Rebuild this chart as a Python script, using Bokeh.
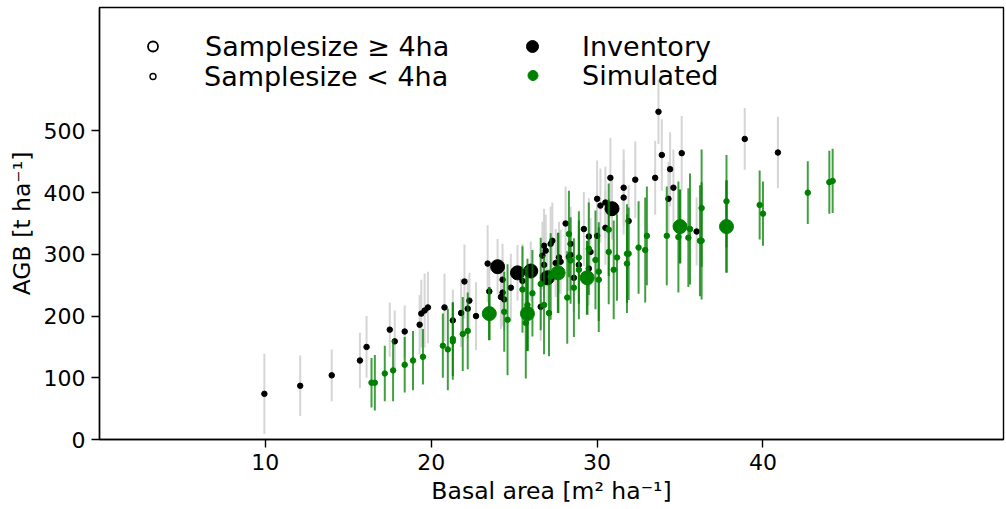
import numpy as np
from bokeh.plotting import figure
from bokeh.models import ColumnDataSource, Legend, LegendItem, FixedTicker
from bokeh.embed import file_html
from bokeh.resources import INLINE

# ---- Inventory, sample size < 4 ha ----
inv_x = [9.94, 12.1, 14.0, 15.7, 16.1, 17.5, 17.8, 18.4, 19.3, 19.4, 19.6, 19.8, 20.8, 21.3, 21.8,
         22.2, 22.3, 22.0, 22.7, 23.4, 23.5, 24.3, 24.3, 24.2, 24.4, 24.8, 25.5, 26.6, 26.7, 26.8,
         26.9, 26.8, 27.2, 27.3, 27.5, 27.7, 27.8, 28.1, 28.3, 28.4, 28.4, 28.6, 28.9, 29.2, 29.5,
         29.6, 29.5, 30.0, 30.0, 30.2, 30.5, 30.5, 30.8, 31.6, 31.6, 31.9, 32.3, 33.5, 33.7, 33.9,
         34.4, 34.3, 34.6, 35.1, 36.0, 38.9, 40.9]
inv_y = [74, 87, 104, 128, 150, 178, 159, 175, 186, 204, 209, 214, 214, 193, 205,
         212, 225, 256, 200, 285, 240, 259, 238, 231, 227, 246, 257, 215, 298, 314,
         306, 283, 317, 322, 286, 295, 288, 350, 296, 299, 317, 262, 283, 341, 329,
         304, 277, 390, 330, 379, 384, 343, 424, 408, 392, 354, 421, 424, 531, 461,
         438, 390, 408, 464, 337, 487, 465]
inv_err = [65, 49, 42, 45, 50, 44, 50, 42, 48, 55, 60, 58, 55, 50, 55,
           48, 45, 60, 55, 62, 50, 58, 55, 52, 50, 55, 60, 55, 55, 60,
           58, 55, 60, 62, 55, 58, 52, 60, 55, 58, 60, 55, 58, 60, 62,
           55, 60, 62, 58, 60, 58, 60, 65, 62, 60, 58, 62, 60, 52, 58,
           60, 60, 62, 60, 55, 50, 58]

# ---- Inventory, sample size >= 4 ha ----
inv_big_x = [24.0, 25.2, 26.0, 27.0, 30.9]
inv_big_y = [280, 270, 273, 262, 374]
inv_big_err = [45, 45, 48, 45, 50]

# ---- Simulated, sample size < 4 ha ----
sim_x = [16.4, 16.6, 17.2, 17.7, 18.4, 18.9, 19.5, 20.7, 21.0, 21.3, 21.3, 21.9, 22.2, 24.4, 24.6,
         25.5, 25.7, 25.8, 26.1, 26.6, 26.8, 27.1, 27.2, 28.3, 28.2, 28.6, 28.4, 28.9, 28.9, 29.5,
         29.9, 30.1, 30.1, 30.7, 30.7, 31.0, 31.2, 31.8, 31.9, 31.8, 32.5, 32.9, 33.0, 34.2, 34.9,
         35.5, 35.6, 36.3, 36.2, 36.3, 37.8, 39.8, 40.0, 42.7, 44.0, 44.2]
sim_y = [92, 92, 107, 112, 121, 128, 134, 152, 146, 163, 159, 171, 176, 207, 194,
         243, 189, 218, 237, 252, 218, 205, 264, 333, 230, 246, 290, 295, 275, 309,
         291, 272, 259, 340, 304, 275, 295, 301, 301, 285, 311, 307, 330, 330, 328,
         327, 341, 375, 322, 322, 386, 380, 366, 400, 417, 419]
sim_err = [40, 45, 45, 50, 45, 48, 45, 52, 66, 60, 62, 60, 62, 65, 90,
           70, 90, 75, 70, 75, 80, 70, 70, 70, 75, 80, 70, 75, 80, 75,
           80, 80, 85, 75, 85, 80, 70, 80, 75, 80, 75, 85, 80, 80, 90,
           80, 90, 95, 90, 95, 75, 56, 52, 51, 51, 52]

# ---- Simulated, sample size >= 4 ha ----
sim_big_x = [23.5, 25.8, 27.65, 29.4, 35.0, 37.8]
sim_big_y = [204, 204, 270, 262, 345, 345]
sim_big_err = [43, 60, 65, 60, 60, 75]

x_ticks = [10, 20, 30, 40]
y_ticks = [0, 100, 200, 300, 400, 500]

FONT = "DejaVu Sans"


def src(x, y, e):
    x = np.array(x, float)
    y = np.array(y, float)
    e = np.array(e, float)
    return ColumnDataSource(dict(x=x, y=y, lo=y - e, hi=y + e))


p = figure(width=1006, height=509, x_range=(0, 54.5), y_range=(0, 700),
           output_backend="svg", toolbar_location=None,
           min_border_left=99, min_border_right=3, min_border_top=7, min_border_bottom=70)

s_inv = src(inv_x, inv_y, inv_err)
s_inv_big = src(inv_big_x, inv_big_y, inv_big_err)
s_sim = src(sim_x, sim_y, sim_err)
s_sim_big = src(sim_big_x, sim_big_y, sim_big_err)

GRAY = "#d0d0d0"
GREEN = "#008000"

# error bars and points
p.segment(x0="x", y0="lo", x1="x", y1="hi", source=s_inv, line_color=GRAY, line_width=2, line_alpha=0.9)
p.segment(x0="x", y0="lo", x1="x", y1="hi", source=s_inv_big, line_color=GRAY, line_width=2, line_alpha=0.9)
p.scatter(x="x", y="y", source=s_inv, size=5.5, color="black")
p.scatter(x="x", y="y", source=s_inv_big, size=14, color="black")
p.segment(x0="x", y0="lo", x1="x", y1="hi", source=s_sim, line_color=GREEN, line_width=2, line_alpha=0.75)
p.segment(x0="x", y0="lo", x1="x", y1="hi", source=s_sim_big, line_color=GREEN, line_width=2.5, line_alpha=0.9)
p.scatter(x="x", y="y", source=s_sim, size=5.5, color=GREEN)
p.scatter(x="x", y="y", source=s_sim_big, size=14, color=GREEN)

# legend proxy renderers (NaN data, never drawn in the plot area)
proxy = lambda: ColumnDataSource(dict(x=[np.nan], y=[np.nan]))
r_big = p.scatter(x="x", y="y", source=proxy(), size=10, fill_color=None, line_color="black", line_width=1.8)
r_small = p.scatter(x="x", y="y", source=proxy(), size=6, fill_color=None, line_color="black", line_width=1.4)
r_inv = p.scatter(x="x", y="y", source=proxy(), size=12, color="black")
r_sim = p.scatter(x="x", y="y", source=proxy(), size=10, color=GREEN)


def mk_legend(label, r, gw, loc, standoff):
    lg = Legend(items=[LegendItem(label=label, renderers=[r])], location=loc,
                glyph_width=gw, glyph_height=40, label_standoff=standoff,
                label_text_font=FONT, label_text_font_size="27px", label_text_color="black",
                background_fill_alpha=0, border_line_alpha=0, padding=0, margin=0, spacing=0)
    p.add_layout(lg)


# (x from frame left, y of legend bottom from frame bottom)
mk_legend("Samplesize \u2265 4ha", r_big, 25, (41, 373), 40)
mk_legend("Samplesize < 4ha", r_small, 15, (46, 343), 44)
mk_legend("Inventory", r_inv, 30, (418, 373), 35)
mk_legend("Simulated", r_sim, 25, (421, 344), 37)

# axes styling
p.xgrid.visible = False
p.ygrid.visible = False
p.xaxis.ticker = FixedTicker(ticks=x_ticks)
p.yaxis.ticker = FixedTicker(ticks=y_ticks)
p.xaxis.axis_label = "Basal area [m\u00b2 ha\u207b\u00b9]"
p.yaxis.axis_label = "AGB [t ha\u207b\u00b9]"
for ax in (p.xaxis, p.yaxis):
    ax.axis_label_text_font = FONT
    ax.axis_label_text_font_size = "23.5px"
    ax.axis_label_text_font_style = "normal"
    ax.axis_label_text_color = "black"
    ax.major_label_text_font = FONT
    ax.major_label_text_font_size = "22px"
    ax.major_label_text_color = "black"
    ax.axis_line_color = "black"
    ax.axis_line_width = 1.4
    ax.major_tick_line_color = "black"
    ax.major_tick_line_width = 1.4
    ax.major_tick_out = 8
    ax.major_tick_in = 0
    ax.minor_tick_line_color = None
p.xaxis.major_label_standoff = 6
p.yaxis.major_label_standoff = 6
p.xaxis.axis_label_standoff = 4
p.yaxis.axis_label_standoff = 5
p.outline_line_color = "black"
p.outline_line_width = 1.4
p.outline_line_alpha = 1.0

open("out.html", "w").write(file_html(p, INLINE))
